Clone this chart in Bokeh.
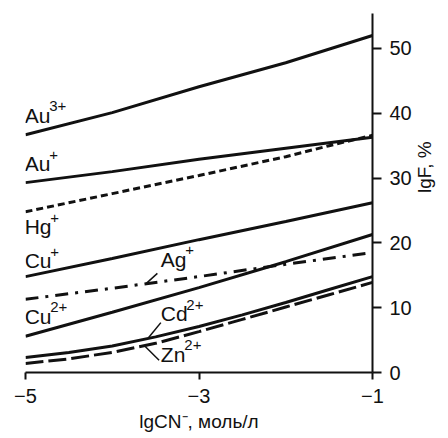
import math
from bokeh.plotting import figure
from bokeh.models import Range1d, FixedTicker
from bokeh.core.properties import value
from bokeh.embed import file_html
from bokeh.resources import INLINE

# ---- data (lg F, % versus lg[CN-], mol/l) ----
x_main = [-5, -4, -3, -2, -1]
au3 = [36.7, 40.1, 44.1, 47.8, 52.0]
au1 = [29.3, 31.0, 32.9, 34.6, 36.3]
cu1 = [14.8, 17.6, 20.5, 23.3, 26.2]
cu2 = [5.6, 9.3, 13.1, 17.1, 21.3]
ag1 = [11.3, 13.0, 14.8, 16.7, 18.5]

x_hg = [-5, -4, -3, -2, -1.5, -1]
hg1 = [24.8, 27.6, 30.4, 33.3, 35.0, 36.6]

x_cdzn = [-5, -4.5, -4, -3.5, -3, -2.5, -2, -1.5, -1]
cd2 = [2.3, 3.1, 4.1, 5.5, 7.1, 8.9, 10.8, 12.8, 14.8]
zn2 = [1.4, 2.1, 3.1, 4.5, 6.3, 8.2, 10.1, 12.0, 13.9]

# ion labels
ion_base = ["Au", "Au", "Hg", "Cu", "Cu", "Ag", "Cd", "Zn"]
ion_sup = ["3+", "+", "+", "+", "2+", "+", "2+", "2+"]
label_x = [-5.01, -5.01, -5.01, -5.01, -5.01, -3.44, -3.44, -3.44]
label_y = [38.6, 31.1, 21.4, 16.2, 7.6, 16.4, 8.0, 1.7]

# leader lines (Ag+, Cd2+, Zn2+)
lead_x0 = [-3.62, -3.58, -3.62]
lead_y0 = [13.6, 5.4, 4.0]
lead_x1 = [-3.48, -3.44, -3.46]
lead_y1 = [15.3, 7.7, 1.9]

x_ticks = [-5, -3, -1]
y_ticks = [0, 10, 20, 30, 40, 50]
x_label = "lgCN\u207b, моль/л"
y_label = "lgF, %"

FONT = "Liberation Sans"
INK = "#111111"

p = figure(width=448, height=438,
           x_range=Range1d(-5, -1), y_range=Range1d(0, 55.4),
           y_axis_location="right",
           output_backend="svg", toolbar_location=None,
           min_border_left=25, min_border_top=13,
           min_border_right=70, min_border_bottom=66)
p.outline_line_color = None
p.xgrid.visible = False
p.ygrid.visible = False
p.background_fill_color = "white"
p.border_fill_color = "white"

# curves
p.line(x_main, au3, line_color=INK, line_width=3)
p.line(x_main, au1, line_color=INK, line_width=3)
p.line(x_hg, hg1, line_color=INK, line_width=3, line_dash="7 4")
p.line(x_main, cu1, line_color=INK, line_width=3)
p.line(x_main, cu2, line_color=INK, line_width=3)
p.line(x_main, ag1, line_color=INK, line_width=3, line_dash="13 7 3 7")
p.line(x_cdzn, cd2, line_color=INK, line_width=3)
p.line(x_cdzn, zn2, line_color=INK, line_width=3, line_dash="18 5")

# leader lines
p.segment(lead_x0, lead_y0, lead_x1, lead_y1, line_color=INK, line_width=1.5)

# labels: base + superscript
base_w = {"Au": 24.5, "Hg": 25.5, "Cu": 25.5, "Ag": 24.5, "Cd": 25.5, "Zn": 23.5}
sup_off = [base_w[b] for b in ion_base]
p.text(label_x, label_y, text=ion_base, y_offset=-7, text_font=value(FONT),
       text_font_size="21px", text_color=INK,
       text_align="left", text_baseline="alphabetic")
p.text(label_x, label_y, text=ion_sup, x_offset=sup_off, y_offset=-16,
       text_font=value(FONT), text_font_size="15px", text_color=INK,
       text_align="left", text_baseline="alphabetic")

# axes
xa = p.xaxis[0]
xa.ticker = FixedTicker(ticks=x_ticks)
xa.major_label_overrides = {t: ("\u2212" + str(abs(t)) if t < 0 else str(t)) for t in x_ticks}
xa.major_tick_in = 0
xa.major_tick_out = 7
xa.minor_tick_line_color = None
xa.major_label_standoff = 9
xa.major_label_text_font = FONT
xa.major_label_text_font_size = "20px"
xa.major_label_text_color = INK
xa.axis_label = x_label
xa.axis_label_text_font = FONT
xa.axis_label_text_font_size = "19px"
xa.axis_label_text_font_style = "normal"
xa.axis_label_text_color = INK
xa.axis_label_standoff = 5
xa.axis_line_width = 2
xa.axis_line_color = INK
xa.major_tick_line_width = 2
xa.major_tick_line_color = INK

ya = p.yaxis[0]
ya.ticker = FixedTicker(ticks=y_ticks)
ya.major_tick_in = 0
ya.major_tick_out = 9
ya.minor_tick_line_color = None
ya.major_label_standoff = 8
ya.major_label_text_font = FONT
ya.major_label_text_font_size = "20px"
ya.major_label_text_color = INK
ya.axis_label = y_label
ya.axis_label_orientation = math.pi / 2
ya.axis_label_text_font = FONT
ya.axis_label_text_font_size = "19px"
ya.axis_label_text_font_style = "normal"
ya.axis_label_text_color = INK
ya.axis_label_standoff = 10
ya.axis_line_width = 2
ya.axis_line_color = INK
ya.major_tick_line_width = 2
ya.major_tick_line_color = INK

open("out.html", "w").write(file_html(p, INLINE))
